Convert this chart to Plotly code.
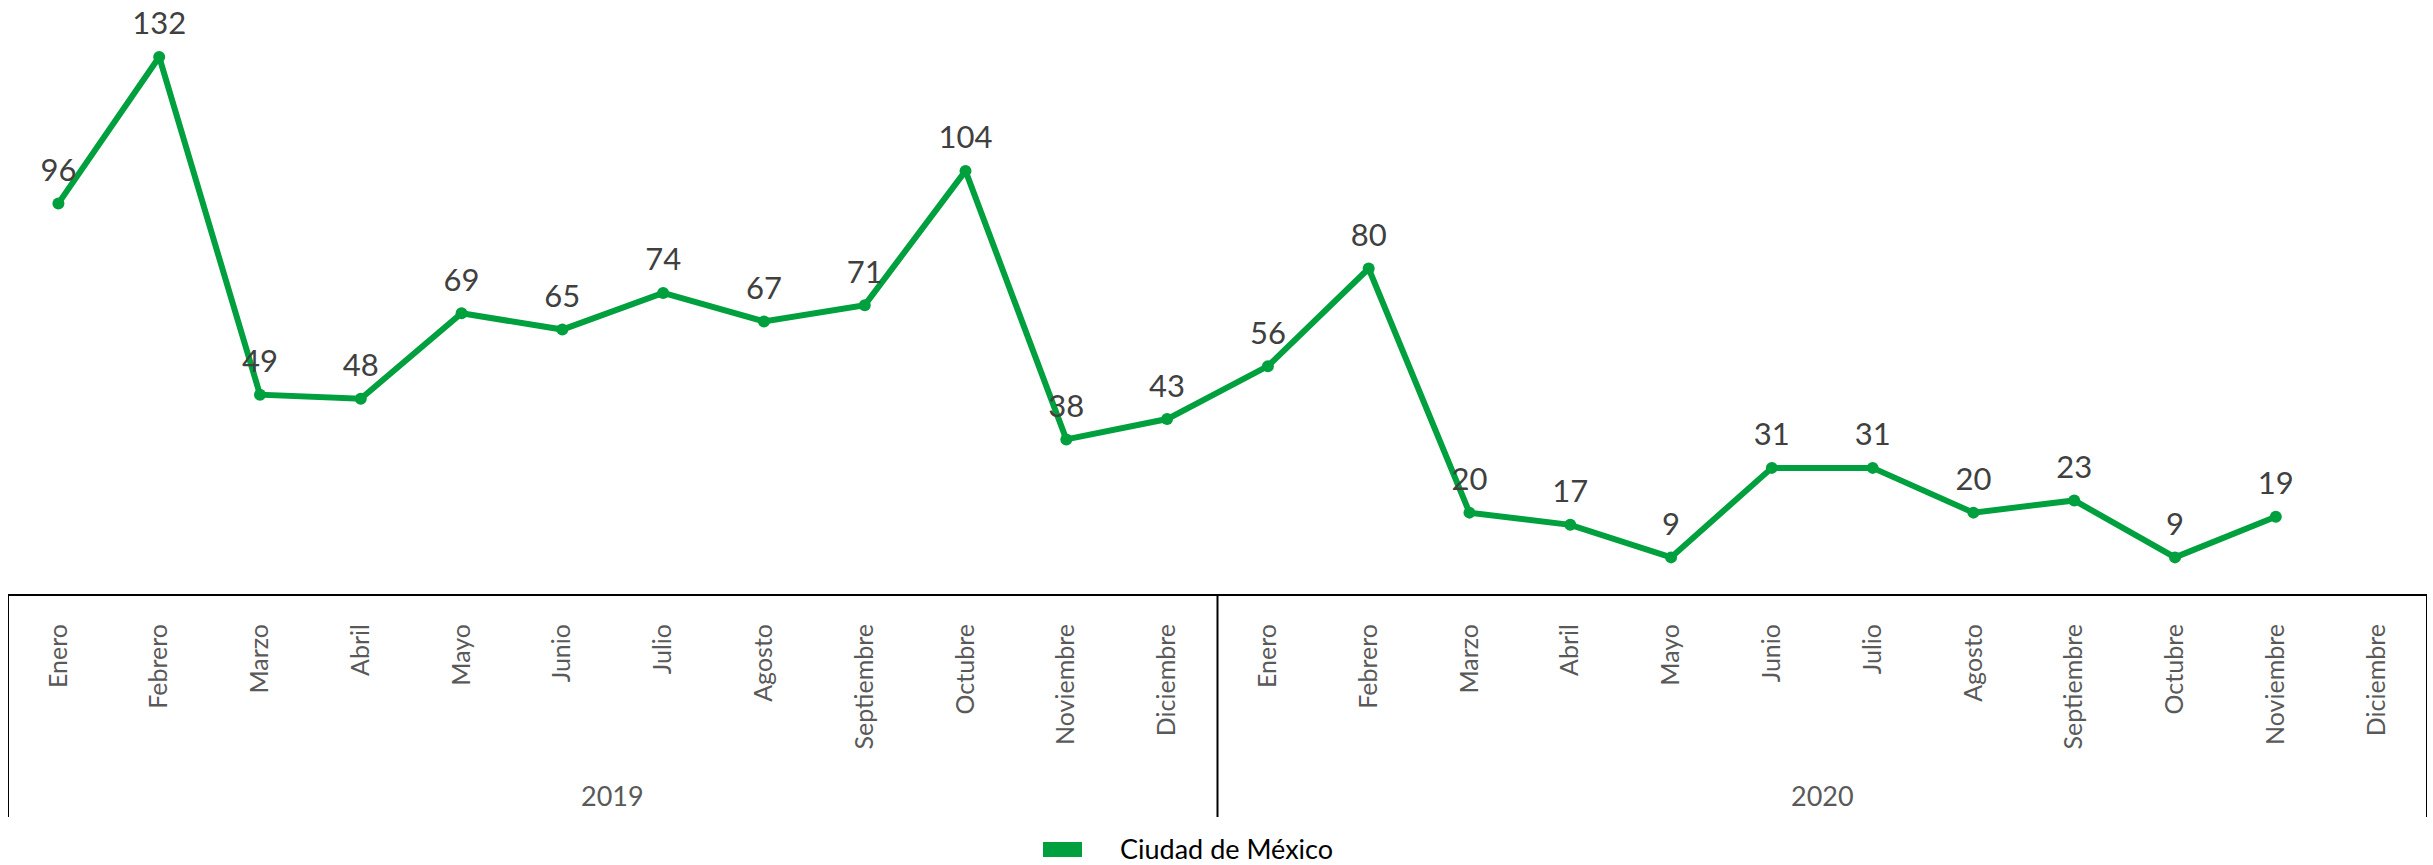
import plotly.graph_objects as go

months = ["Enero", "Febrero", "Marzo", "Abril", "Mayo", "Junio", "Julio",
          "Agosto", "Septiembre", "Octubre", "Noviembre", "Diciembre"]
years = ["2019", "2020"]
values_2019 = [96, 132, 49, 48, 69, 65, 74, 67, 71, 104, 38, 43]
values_2020 = [56, 80, 20, 17, 9, 31, 31, 20, 23, 9, 19, None]
series_name = "Ciudad de México"

labels = months + months
values = values_2019 + values_2020
xs = list(range(len(labels)))

GREEN = "#00A03E"
FONT = "Lato"

W, H = 2433, 865
ML, MR, MT, MB = 8, 6, 0, 271
PH = H - MT - MB  # plot height in px
PW = W - ML - MR


def py(p):
    """convert page pixel y into paper y"""
    return (H - MB - p) / PH


def px(p):
    return (p - ML) / PW


fig = go.Figure()
fig.add_trace(go.Scatter(
    x=xs, y=values, mode="lines+markers",
    name=series_name,
    line=dict(color=GREEN, width=6),
    marker=dict(color=GREEN, size=12),
    cliponaxis=False,
    showlegend=False,
    connectgaps=False,
    hoverinfo="x+y",
))
# data labels (invisible larger markers give the labels their offset)
fig.add_trace(go.Scatter(
    x=xs, y=values, mode="markers+text",
    marker=dict(color="rgba(0,0,0,0)", size=22),
    text=[("" if v is None else str(v)) for v in values],
    textposition="top center",
    textfont=dict(family=FONT, size=31, color="#404040"),
    cliponaxis=False,
    showlegend=False,
    hoverinfo="skip",
))

shapes = []
# vertical dividers of the category table
for xv in [-0.5, 11.5, 23.5]:
    shapes.append(dict(type="line", xref="x", yref="paper", x0=xv, x1=xv,
                       y0=0, y1=py(817), line=dict(color="#000000", width=2)))
# legend swatch
shapes.append(dict(type="rect", xref="paper", yref="paper",
                   x0=px(1043), x1=px(1082), y0=py(857), y1=py(842),
                   fillcolor=GREEN, line=dict(width=0)))

annotations = []
for i, yr in enumerate(years):
    annotations.append(dict(x=5.5 + 12 * i, y=py(795), xref="x", yref="paper",
                            text=yr, showarrow=False, xanchor="center", yanchor="middle",
                            font=dict(family=FONT, size=27, color="#595959")))
annotations.append(dict(x=px(1118), y=py(848), xref="paper", yref="paper",
                        text=series_name, showarrow=False, xanchor="left", yanchor="middle",
                        font=dict(family=FONT, size=27, color="#000000")))

fig.update_layout(
    width=W, height=H,
    margin=dict(l=ML, r=MR, t=MT, b=MB),
    paper_bgcolor="white", plot_bgcolor="white",
    shapes=shapes, annotations=annotations,
    xaxis=dict(
        range=[-0.5, len(labels) - 0.5],
        tickmode="array", tickvals=xs, ticktext=labels,
        tickangle=-90, ticks="", showgrid=False, zeroline=False,
        showline=True, linecolor="#000000", linewidth=2,
        tickfont=dict(family=FONT, size=25, color="#595959"),
        ticklabelstandoff=18,
    ),
    yaxis=dict(range=[0, 146], visible=False, showgrid=False, zeroline=False),
)

fig.write_html("out.html",
               config={"displayModeBar": False},
               post_script="document.body.style.margin='0';document.body.style.overflow='hidden';")
